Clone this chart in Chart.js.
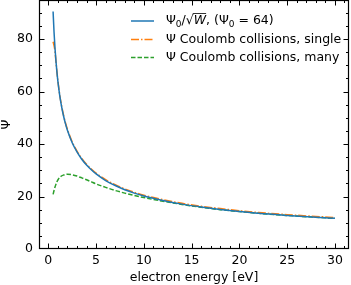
<!DOCTYPE html>
<html>
<head>
<meta charset="utf-8">
<script src="https://cdn.jsdelivr.net/npm/chart.js@4.4.1/dist/chart.umd.min.js"></script>
<style>
html,body{margin:0;padding:0;background:#fff;}
#wrap{width:351px;height:285px;position:relative;}
</style>
</head>
<body>
<div id="wrap"><canvas id="c" width="351" height="285"></canvas></div>
<script>
// ---- data ----
const energy = [0.5,0.6,0.7,0.8,0.9,1,1.2,1.4,1.6,1.8,2,2.5,3,3.5,4,4.5,5,6,7,8,9,10,12,14,16,18,20,22,25,28,30];
const psiModel = [90.5,82.6,76.5,71.6,67.5,64.0,58.4,54.1,50.6,47.7,45.3,40.5,37.0,34.2,32.0,30.2,28.6,26.1,24.2,22.6,21.3,20.2,18.5,17.1,16.0,15.1,14.3,13.6,12.8,12.1,11.7];
const psiSingle = [79.0,77.5,75.3,71.4,67.6,64.2,58.6,54.4,50.9,48.0,45.6,40.8,37.3,34.5,32.3,30.5,28.9,26.4,24.5,22.9,21.6,20.5,18.8,17.4,16.3,15.4,14.6,13.9,13.1,12.4,12.0];
const psiMany = [20.8,22.3,23.6,24.7,25.6,26.3,27.3,27.9,28.2,28.4,28.5,28.3,27.8,27.1,26.4,25.6,24.8,23.5,22.3,21.3,20.4,19.6,18.2,17.0,15.9,15.0,14.3,13.6,12.8,12.1,11.7];
const xTicks = [0,5,10,15,20,25,30];
const yTicks = [0,20,40,60,80];
const xMinorTicks = [1,2,3,4,6,7,8,9,11,12,13,14,16,17,18,19,21,22,23,24,26,27,28,29,31];
const yMinorTicks = [5,10,15,25,30,35,45,50,55,65,70,75,85,90];
const legendLabels = ['Ψ₀/√W, (Ψ₀ = 64)', 'Ψ Coulomb collisions, single', 'Ψ Coulomb collisions, many'];

const FONT = 'DejaVu Sans';
const FS = 12.5;
const colors = ['#1f77b4','#ff7f0e','#2ca02c'];
const dashes = [[], [8,2,1.5,2], [4.5,2]];

function pts(ys){ return energy.map((x,i)=>({x:x,y:ys[i]})); }

const framePlugin = {
  id:'frame',
  afterDraw(chart){
    const ctx = chart.ctx, a = chart.chartArea;
    const xs = chart.scales.x, ys = chart.scales.y;
    ctx.save();
    ctx.strokeStyle = '#000';
    ctx.lineWidth = 1;
    const L = Math.round(a.left)+0.5, R = Math.round(a.right)-0.5, T = Math.round(a.top)+0.5, B = Math.round(a.bottom)-0.5;
    function vt(v, len){
      const p = Math.round(xs.getPixelForValue(v))+0.5;
      if (p < L+1 || p > R-1) return;
      ctx.beginPath(); ctx.moveTo(p,B); ctx.lineTo(p,B-len); ctx.moveTo(p,T); ctx.lineTo(p,T+len); ctx.stroke();
    }
    function ht(v, len){
      const p = Math.round(ys.getPixelForValue(v))+0.5;
      if (p < T+1 || p > B-1) return;
      ctx.beginPath(); ctx.moveTo(L,p); ctx.lineTo(L+len,p); ctx.moveTo(R,p); ctx.lineTo(R-len,p); ctx.stroke();
    }
    xTicks.forEach(v=>vt(v,5)); xMinorTicks.forEach(v=>vt(v,2.5));
    yTicks.forEach(v=>ht(v,5)); yMinorTicks.forEach(v=>ht(v,2.5));
    ctx.lineWidth = 1.2;
    ctx.strokeRect(L,T,R-L,B-T);
    // legend
    const rows = [21, 39.5, 57.5];
    const x0 = 131, x1 = 154, tx = 166;
    ctx.textBaseline = 'middle';
    ctx.fillStyle = '#000';
    rows.forEach((y,i)=>{
      ctx.save();
      ctx.strokeStyle = colors[i]; ctx.lineWidth = 1.5; ctx.setLineDash(dashes[i]);
      ctx.beginPath(); ctx.moveTo(x0,y); ctx.lineTo(x1,y); ctx.stroke();
      ctx.restore();
      ctx.font = FS + 'px "' + FONT + '"';
      if (i === 0) {
        let x = tx;
        const seg = [['Ψ','n'],['0','s'],['/√','n'],['W','i'],[', (','n'],['Ψ','n'],['0','s'],[' = 64)','n']];
        seg.forEach(s=>{
          if (s[1]==='s'){ ctx.font = '9px "'+FONT+'"'; ctx.fillText(s[0], x, y+3.5); x += ctx.measureText(s[0]).width; }
          else if (s[1]==='i'){ ctx.font = 'italic '+FS+'px "'+FONT+'"'; ctx.fillText(s[0], x, y); const w = ctx.measureText(s[0]).width;
            ctx.save(); ctx.lineWidth=0.8; ctx.beginPath(); ctx.moveTo(x-1,y-7.5); ctx.lineTo(x+w,y-7.5); ctx.stroke(); ctx.restore(); x += w; }
          else { ctx.font = FS+'px "'+FONT+'"'; ctx.fillText(s[0], x, y); x += ctx.measureText(s[0]).width; }
        });
      } else {
        ctx.fillText(legendLabels[i], tx, y);
      }
    });
    ctx.restore();
  }
};

new Chart(document.getElementById('c'), {
  type:'line',
  data:{
    datasets:[
      {label:legendLabels[0], data:pts(psiModel), borderColor:colors[0], borderWidth:1.5, borderDash:dashes[0], pointRadius:0, cubicInterpolationMode:'monotone', fill:false},
      {label:legendLabels[1], data:pts(psiSingle), borderColor:colors[1], borderWidth:1.5, borderDash:dashes[1], pointRadius:0, cubicInterpolationMode:'monotone', fill:false},
      {label:legendLabels[2], data:pts(psiMany), borderColor:colors[2], borderWidth:1.5, borderDash:dashes[2], pointRadius:0, cubicInterpolationMode:'monotone', fill:false}
    ]
  },
  options:{
    responsive:false, animation:false, devicePixelRatio:1,
    layout:{padding:{left:0,right:2,top:0,bottom:0}},
    plugins:{legend:{display:false}, tooltip:{enabled:false}},
    scales:{
      x:{type:'linear', min:-0.975, max:31.475,
        grid:{display:false, drawTicks:false}, border:{display:false},
        ticks:{font:{family:FONT,size:FS}, color:'#000', padding:4, maxRotation:0},
        title:{display:true, text:'electron energy [eV]', font:{family:FONT,size:FS}, color:'#000', padding:{top:1,bottom:0}},
        afterBuildTicks(s){ s.ticks = xTicks.map(v=>({value:v})); },
        afterFit(s){ s.height = 36; s.paddingLeft=0; s.paddingRight=0; }
      },
      y:{type:'linear', min:0, max:94.9,
        grid:{display:false, drawTicks:false}, border:{display:false},
        ticks:{font:{family:FONT,size:FS}, color:'#000', padding:6},
        title:{display:true, text:'Ψ', font:{family:FONT,size:FS}, color:'#000', padding:{top:-1,bottom:0}},
        afterBuildTicks(s){ s.ticks = yTicks.map(v=>({value:v})); },
        afterFit(s){ s.width = 39; s.paddingTop=0; s.paddingBottom=0; }
      }
    }
  },
  plugins:[framePlugin]
});
</script>
</body>
</html>
